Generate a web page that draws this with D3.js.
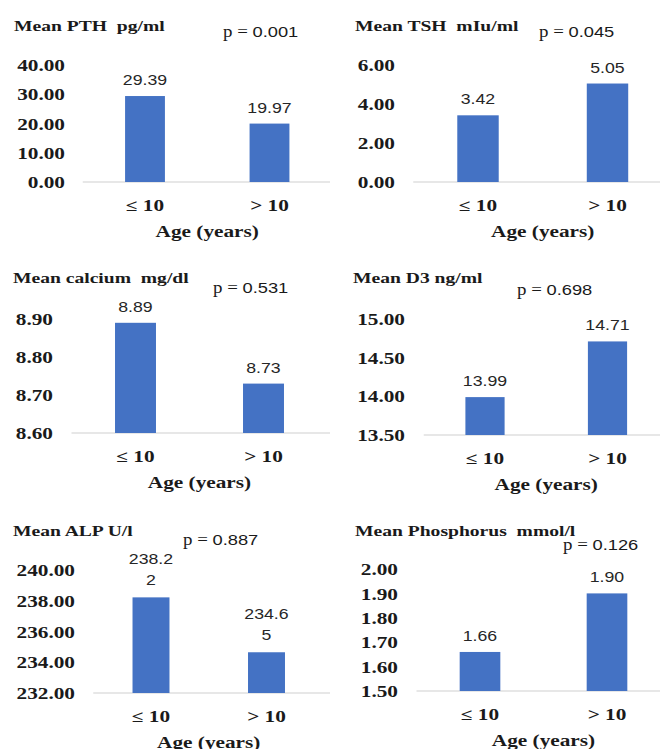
<!DOCTYPE html>
<html>
<head>
<meta charset="utf-8">
<script src="https://cdn.jsdelivr.net/npm/d3@7"></script>
<style>
  html, body { margin: 0; padding: 0; background: #ffffff; }
  svg { display: block; }
  text { white-space: pre; }
  .serif { font-family: "Liberation Serif", "Times New Roman", Times, serif; }
  .sans { font-family: "Liberation Sans", Arial, sans-serif; }
</style>
</head>
<body>
<svg id="chart" width="660" height="749"></svg>
<script>
// ---------- data ----------
const categories = ["\u2264 10", "> 10"];
const pthValues = [29.39, 19.97];
const tshValues = [3.42, 5.05];
const calciumValues = [8.89, 8.73];
const d3Values = [13.99, 14.71];
const alpValues = [238.22, 234.65];
const phosphorusValues = [1.66, 1.90];

const pthTicks = [0, 10, 20, 30, 40];
const tshTicks = [0, 2, 4, 6];
const calciumTicks = [8.6, 8.7, 8.8, 8.9];
const d3Ticks = [13.5, 14.0, 14.5, 15.0];
const alpTicks = [232, 234, 236, 238, 240];
const phosphorusTicks = [1.5, 1.6, 1.7, 1.8, 1.9, 2.0];

const panelTitles = ["Mean PTH  pg/ml", "Mean TSH  mIu/ml", "Mean calcium  mg/dl",
                     "Mean D3 ng/ml", "Mean ALP U/l", "Mean Phosphorus  mmol/l"];
const pValues = ["0.001", "0.045", "0.531", "0.698", "0.887", "0.126"];
const xAxisTitle = "Age (years)";

// ---------- layout (positions only) ----------
const panels = [
  { values: pthValues, ticks: pthTicks, yTop: 65, yBot: 182, bandStart: 82.75, step: 124.5, right: 330,
    tickRight: 65, titleX: 14, titleY: 31, pX: 223, pY: 37, wrap: 0 },
  { values: tshValues, ticks: tshTicks, yTop: 65, yBot: 182, bandStart: 413.25, step: 129.5, right: 660,
    tickRight: 395, titleX: 355, titleY: 31, pX: 539, pY: 37, wrap: 0 },
  { values: calciumValues, ticks: calciumTicks, yTop: 319, yBot: 433, bandStart: 71.5, step: 128, right: 330,
    tickRight: 53, titleX: 13, titleY: 283, pX: 213, pY: 293, wrap: 0 },
  { values: d3Values, ticks: d3Ticks, yTop: 319, yBot: 435, bandStart: 423.75, step: 122.5, right: 660,
    tickRight: 405, titleX: 353, titleY: 283, pX: 517, pY: 295, wrap: 0 },
  { values: alpValues, ticks: alpTicks, yTop: 570, yBot: 693, bandStart: 93.25, step: 115.5, right: 330,
    tickRight: 75, titleX: 13, titleY: 536, pX: 183, pY: 545, wrap: 5 },
  { values: phosphorusValues, ticks: phosphorusTicks, yTop: 569, yBot: 691, bandStart: 416.5, step: 127, right: 660,
    tickRight: 398, titleX: 355, titleY: 536, pX: 563, pY: 550, wrap: 0 }
];

const BAR = "#4472C4";
const SX_SERIF = 1.33;
const SX_SANS = 1.18;

const svg = d3.select("#chart");

function addText(parent, x, y, str, o) {
  const g = parent.append("g").attr("transform", `translate(${x},${y})`);
  const t = g.append("text")
    .attr("class", o.cls || "serif")
    .attr("x", 0).attr("y", 0)
    .attr("transform", `scale(${o.sx || 1},1)`)
    .attr("text-anchor", o.anchor || "start")
    .style("font-size", (o.size || 16) + "px")
    .style("font-weight", o.weight || "normal")
    .attr("fill", o.fill || "#1a1a1a")
    .text(str);
  return t;
}

const fmt = d3.format(".2f");

panels.forEach((p, i) => {
  const g = svg.append("g");
  const dom = d3.extent(p.ticks);
  const y = d3.scaleLinear().domain(dom).range([p.yBot, p.yTop]);
  const n = categories.length;
  const x = d3.scaleBand().domain(categories)
    .range([p.bandStart, p.bandStart + p.step * n])
    .paddingInner(0.68).paddingOuter(0.34);

  // baseline
  g.append("line")
    .attr("x1", p.bandStart).attr("x2", p.right)
    .attr("y1", y(dom[0])).attr("y2", y(dom[0]))
    .attr("stroke", "#d0d0d0").attr("stroke-width", 1.2);

  // bars
  g.selectAll("rect.bar").data(p.values).enter().append("rect")
    .attr("class", "bar")
    .attr("x", (d, j) => x(categories[j]))
    .attr("width", x.bandwidth())
    .attr("y", d => y(d))
    .attr("height", d => y(dom[0]) - y(d))
    .attr("fill", BAR);

  // y axis (labels only)
  const yAxis = d3.axisLeft(y).tickValues(p.ticks).tickFormat(fmt).tickSize(0).tickPadding(0);
  const ya = g.append("g").attr("transform", `translate(${p.tickRight},0)`).call(yAxis);
  ya.attr("font-family", null).attr("font-size", null);
  ya.select(".domain").remove();
  ya.selectAll("text")
    .attr("class", "serif")
    .attr("x", 0)
    .attr("dy", "0.35em")
    .attr("transform", `scale(${SX_SERIF},1)`)
    .style("font-size", "16px").style("font-weight", "bold")
    .attr("fill", "#1a1a1a");

  // x axis (category labels)
  const xAxis = d3.axisBottom(x).tickSize(0).tickPadding(0);
  const xa = g.append("g").attr("transform", `translate(0,${y(dom[0]) + 29})`).call(xAxis);
  xa.attr("font-family", null).attr("font-size", null);
  xa.select(".domain").remove();
  xa.selectAll("text")
    .attr("class", "serif")
    .attr("y", 0).attr("dy", 0)
    .attr("transform", `scale(${SX_SERIF},1)`)
    .style("font-size", "16px").style("font-weight", "bold")
    .attr("fill", "#1a1a1a");

  // value labels
  p.values.forEach((v, j) => {
    const cx = x(categories[j]) + x.bandwidth() / 2;
    const s = fmt(v);
    const o = { anchor: "middle", cls: "sans", size: 15, sx: SX_SANS, fill: "#262626" };
    if (p.wrap && s.length > p.wrap) {
      addText(g, cx, y(v) - 33, s.slice(0, p.wrap), o);
      addText(g, cx, y(v) - 12, s.slice(p.wrap), o);
    } else {
      addText(g, cx, y(v) - 11, s, o);
    }
  });

  // x axis title
  const midX = (p.bandStart + p.bandStart + p.step * n) / 2;
  addText(g, midX, y(dom[0]) + 55, xAxisTitle, { anchor: "middle", size: 16, weight: "bold", sx: SX_SERIF });

  // panel title
  addText(g, p.titleX, p.titleY, panelTitles[i], { size: 14, weight: "bold", sx: 1.4 });

  // p value
  const pt = addText(g, p.pX, p.pY, "", { size: 16, sx: SX_SANS });
  pt.append("tspan").attr("class", "serif").style("font-size", "16px").text("p = ");
  pt.append("tspan").attr("class", "sans").style("font-size", "15.5px").text(pValues[i]);
});
</script>
</body>
</html>
